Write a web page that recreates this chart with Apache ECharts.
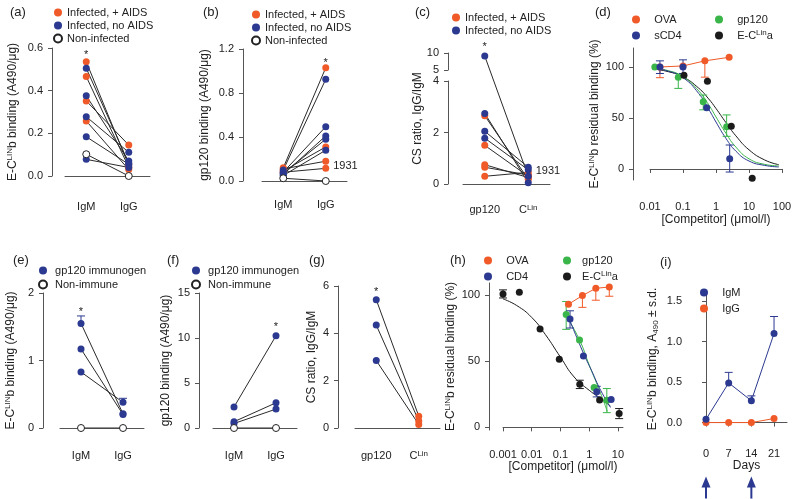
<!DOCTYPE html>
<html><head><meta charset="utf-8">
<script src="https://cdn.jsdelivr.net/npm/echarts@6/dist/echarts.min.js"></script>
<style>html,body{margin:0;padding:0;background:#fff}#c{width:800px;height:499px}</style>
</head><body><div id="c"></div><script>
// ================= DATA =================
// (a) E-C^LIN b binding (A490/ug); IgM[i] is paired with IgG[i]
const pairCats = ['IgM', 'IgG'];
const aAidsIgM   = [0.535, 0.466, 0.352, 0.258];
const aAidsIgG   = [0.050, 0.040, 0.145, 0.030];
const aNoAidsIgM = [0.505, 0.376, 0.278, 0.184, 0.078];
const aNoAidsIgG = [0.060, 0.070, 0.111, 0.055, 0.040];
const aNonIgM    = [0.102];
const aNonIgG    = [0.000];
// (b) gp120 binding (A490/ug)
const bAidsIgM   = [0.12, 0.09, 0.11, 0.08];
const bAidsIgG   = [1.03, 0.31, 0.18, 0.115];
const bNoAidsIgM = [0.10, 0.08, 0.06, 0.07, 0.05];
const bNoAidsIgG = [0.925, 0.494, 0.41, 0.38, 0.28];
const bNonIgM    = [0.025];
const bNonIgG    = [0.000];
// (c) CS ratio IgG/IgM
const ratioCats   = ['gp120', 'CLin'];
const cAidsGp120   = [2.65, 1.5, 0.75, 0.65, 0.3];
const cAidsCLin    = [0.18, 0.30, 0.25, 0.35, 0.45];
const cNoAidsGp120 = [9.1, 2.74, 2.05, 1.78];
const cNoAidsCLin  = [0.30, 0.05, 0.65, 0.55];
// (d) residual binding (%) vs competitor (umol/l)
const dOvaX = [0.02, 0.1, 0.46, 2.5],   dOvaY = [100, 101, 106, 109.5];
const dCd4X = [0.02, 0.1, 0.52, 2.6],   dCd4Y = [100, 100, 60, 10];
const dGpX  = [0.014, 0.072, 0.41, 2.1], dGpY = [100, 90, 66, 41.5];
const dEcX  = [0.107, 0.55, 2.9, 12.5], dEcY  = [92, 86, 42, -9];
// error bars [x, mean, low, high]
const dOvaErr = [[0.02, 100, 89.5, 100], [0.46, 106, 90, 106]];
const dCd4Err = [[0.02, 100, 93.6, 106], [0.1, 100, 93.6, 107], [2.6, 10, -3, 23.5]];
const dGpErr  = [[0.072, 90, 79, 90], [0.41, 66, 58, 72.5], [2.1, 41.5, 32, 53]];
// fitted curves
const dFitX    = [0.012, 0.03, 0.1, 0.3, 0.6, 1, 2, 4, 10, 30, 80];
const dCd4FitY = [98.6, 96.6, 89.5, 74, 58.6, 46, 30, 17.5, 7.8, 3.5, 2];
const dGpFitY  = [98.7, 97, 90.5, 76.5, 63, 51, 35, 21.5, 10, 4.5, 3];
const dEcFitY  = [97.9, 96, 90.2, 79.2, 68.7, 59.3, 45.5, 32.5, 18.8, 8.8, 4.2];
// (e) E-C^LIN b binding, immunized mice
const eImmIgM = [1.55, 1.17, 0.83], eImmIgG = [0.21, 0.20, 0.38];
const eNonIgM = [0], eNonIgG = [0];
const eErr = [['IgM', 1.55, 1.55, 1.66], ['IgG', 0.38, 0.38, 0.44]];
// (f) gp120 binding, immunized mice
const fImmIgM = [2.33, 0.7, 0.5], fImmIgG = [10.25, 2.8, 2.1];
const fNonIgM = [0], fNonIgG = [0];
// (g) CS ratio
const gImmGp120 = [5.42, 4.35, 2.85], gImmCLin = [0.5, 0.3, 0.15];
// (h) residual binding (%)
const hOvaX = [0.19, 0.58, 1.7, 5.0],  hOvaY = [93, 99.5, 105, 106];
const hCd4X = [0.215, 0.63, 1.83, 5.8], hCd4Y = [81.8, 53.8, 26.8, 21];
const hGpX  = [0.158, 0.46, 1.48, 4.1], hGpY  = [85.3, 66, 30, 20.5];
const hEcX  = [0.001, 0.0037, 0.0195, 0.091, 0.47, 2.3, 11];
const hEcY  = [100.7, 102, 74.2, 51.5, 32.6, 20.7, 10.4];
const hOvaErr = [[0.58, 99.5, 90.6, 99.5], [1.7, 105, 96, 105], [5.0, 106, 99, 106]];
const hCd4Err = [[0.215, 81.8, 75, 88], [1.83, 26.8, 23, 31]];
const hGpErr  = [[0.158, 85.3, 74, 95], [4.1, 20.5, 11.1, 29.3]];
const hEcErr  = [[0.001, 100.7, 97.7, 103.8], [0.47, 32.6, 29.3, 35.6], [11, 10.4, 6.6, 14.2]];
const hEcFitX  = [0.001, 0.003, 0.01, 0.03, 0.1, 0.3, 1, 3, 5.5];
const hEcFitY  = [97, 92, 83, 70, 53, 38, 28, 20.5, 16];
const hGpFitX  = [0.15, 0.46, 1, 2, 4.3];
const hGpFitY  = [85, 66, 47, 31, 12];
const hCd4FitX = [0.2, 0.63, 1.2, 2.5, 5.5];
const hCd4FitY = [82, 56, 43, 28, 15];
// (i) time course
const iDays = [0, 7, 14, 21];
const iIgM  = [0.04, 0.49, 0.27, 1.10];
const iIgG  = [0.00, 0.00, 0.00, 0.05];
const iIgMErr = [[7, 0.49, 0.49, 0.62], [14, 0.27, 0.27, 0.33], [21, 1.10, 1.10, 1.31]];
const iBoostDays = [0, 14];

// ================= STYLE / HELPERS =================
const FONT = '"Liberation Sans", Arial, Helvetica, sans-serif';
const COL = {orange:'#f05a28', blue:'#2b3990', green:'#39b54a', black:'#1b1b1b', text:'#222', axis:'#555', link:'#2a2a2a'};
const RICH = {
  sup:{fontSize:8, lineHeight:8, verticalAlign:'top', fontFamily:FONT, color:COL.text},
  sub:{fontSize:8, lineHeight:8, verticalAlign:'bottom', fontFamily:FONT, color:COL.text}
};
function merge(a, b){
  const o = Object.assign({}, a);
  for (const k in b){
    const v = b[k];
    if (v && typeof v === 'object' && !Array.isArray(v) && a[k] && typeof a[k] === 'object' && !Array.isArray(a[k])) o[k] = merge(a[k], v);
    else o[k] = v;
  }
  return o;
}
const zip = (xs, ys) => xs.map((x, i) => [x, ys[i]]);
const grids = [], xAxes = [], yAxes = [], series = [], legends = [], titles = [];
const LINE = {show:true, lineStyle:{color:COL.axis, width:1}};
const TICK = {show:true, length:4, lineStyle:{color:COL.axis, width:1}};
const LBL = {color:COL.text, fontSize:11, fontFamily:FONT};
function yAxisOpt(extra){
  return merge({type:'value', splitLine:{show:false}, axisLine:LINE, axisTick:TICK,
    axisLabel:merge(LBL, {margin:9}), nameLocation:'middle', nameRotate:90,
    nameTextStyle:{color:COL.text, fontSize:12, fontFamily:FONT, lineHeight:14, rich:RICH}}, extra);
}
function xCatOpt(cats, extra){
  return merge({type:'category', data:cats, boundaryGap:true, splitLine:{show:false}, axisLine:LINE,
    axisTick:{show:false}, axisLabel:merge(LBL, {margin:6, interval:0, hideOverlap:false, rich:RICH,
      formatter: v => v === 'CLin' ? 'C{sup|Lin}' : v})}, extra);
}
function xNumOpt(extra){
  return merge({splitLine:{show:false}, axisLine:LINE, axisTick:TICK, axisLabel:merge(LBL, {margin:6}),
    nameLocation:'middle', nameTextStyle:{color:COL.text, fontSize:12, fontFamily:FONT}}, extra);
}
function cart(g, x, y){
  grids.push(g); const gi = grids.length - 1;
  xAxes.push(Object.assign({gridIndex:gi}, x));
  yAxes.push(Object.assign({gridIndex:gi}, y));
  return {x:xAxes.length - 1, y:yAxes.length - 1};
}
function pt(c, v, mark){
  if (!mark) return [c, v];
  return {value:[c, v], label:merge({show:true, color:COL.text, fontSize:11, fontFamily:FONT}, mark)};
}
function styleFor(g, right){
  if (g.open) return {color:'#fff', borderColor:'#222', borderWidth:1, opacity:1};
  return {color: right && g.colorR ? g.colorR : g.color, opacity:1};
}
function pairPanel(ax, cats, groups, tf){
  tf = tf || (v => v);
  groups.forEach(g => g.L.forEach((v, i) => series.push({type:'line', xAxisIndex:ax.x, yAxisIndex:ax.y,
    data:[[cats[0], tf(v)], [cats[1], tf(g.R[i])]], symbol:'none', lineStyle:{color:COL.link, width:1}, silent:true, z:2})));
  groups.forEach(g => {
    const m = g.marks || {};
    const L = g.L.map((v, i) => pt(cats[0], tf(v), m['L' + i]));
    const R = g.R.map((v, i) => pt(cats[1], tf(v), m['R' + i]));
    const base = {type:'scatter', xAxisIndex:ax.x, yAxisIndex:ax.y, symbol:'circle', symbolSize:7, z:3};
    if (g.colorR){
      series.push(merge(base, {name:g.name, data:L, itemStyle:styleFor(g, false)}));
      series.push(merge(base, {data:R, itemStyle:styleFor(g, true)}));
    } else {
      series.push(merge(base, {name:g.name, data:L.concat(R), itemStyle:styleFor(g, false)}));
    }
  });
}
function errSeries(ax, data, color){
  return {type:'custom', xAxisIndex:ax.x, yAxisIndex:ax.y, data, z:3, silent:true, encode:{x:0, y:[1, 2, 3]},
    renderItem:(p, api) => {
      const x = api.value(0), m = api.value(1), lo = api.value(2), hi = api.value(3);
      const a = api.coord([x, lo]), b = api.coord([x, hi]), h = 4;
      const st = {stroke:color, lineWidth:1};
      const kids = [{type:'line', shape:{x1:a[0], y1:a[1], x2:b[0], y2:b[1]}, style:st}];
      if (lo < m) kids.push({type:'line', shape:{x1:a[0]-h, y1:a[1], x2:a[0]+h, y2:a[1]}, style:st});
      if (hi > m) kids.push({type:'line', shape:{x1:b[0]-h, y1:b[1], x2:b[0]+h, y2:b[1]}, style:st});
      return {type:'group', children:kids};
    }};
}
function scat(ax, name, data, color, z){
  return {type:'scatter', name, xAxisIndex:ax.x, yAxisIndex:ax.y, data, symbol:'circle', symbolSize:7, itemStyle:{color, opacity:1}, z:z || 4};
}
function fit(ax, data, color){
  return {type:'line', xAxisIndex:ax.x, yAxisIndex:ax.y, data, symbol:'none', smooth:true, lineStyle:{color, width:1}, silent:true, z:2};
}
function legend(names, left, top, gap, pad){
  legends.push({orient:'vertical', left, top, padding:0, itemGap:gap, itemWidth:8, itemHeight:8, icon:'circle',
    selectedMode:false, data:names, textStyle:{color:COL.text, fontSize:11, fontFamily:FONT, lineHeight:13, rich:RICH},
    formatter: n => pad + (n === 'E-CLina' ? 'E-C{sup|Lin}a' : n)});
}
function label(t, left, top){
  titles.push({text:t, left, top, padding:0, textStyle:{fontSize:13, fontWeight:'normal', fontFamily:FONT, color:COL.text}});
}
const fmt1 = v => v.toFixed(1);
const STAR = {formatter:'*', position:'top'};

// ================= PANEL (a) =================
const axA = cart({left:65, top:48, width:85, height:128},
  xCatOpt(pairCats, {offset:19}),
  yAxisOpt({min:0, max:0.6, interval:0.2, offset:13, axisLabel:{formatter:fmt1},
    name:'E-C{sup|LIN}b binding (A490/μg)', nameGap:32}));
pairPanel(axA, pairCats, [
  {name:'Infected, + AIDS', color:COL.orange, L:aAidsIgM, R:aAidsIgG, marks:{L0:merge(STAR, {distance:-2})}},
  {name:'Infected, no AIDS', color:COL.blue, L:aNoAidsIgM, R:aNoAidsIgG},
  {name:'Non-infected', open:true, L:aNonIgM, R:aNonIgG}
]);
legend(['Infected, + AIDS', 'Infected, no AIDS', 'Non-infected'], 53, 6, 0, '');
label('(a)', 10, 6);

// ================= PANEL (b) =================
const axB = cart({left:262, top:49, width:85, height:132},
  xCatOpt(pairCats, {offset:12}),
  yAxisOpt({min:0, max:1.2, interval:0.4, offset:19, axisLabel:{formatter:fmt1},
    name:'gp120 binding (A490/μg)', nameGap:31}));
pairPanel(axB, pairCats, [
  {name:'Infected, + AIDS', color:COL.orange, L:bAidsIgM, R:bAidsIgG,
    marks:{R0:merge(STAR, {distance:-4}), R3:{formatter:'1931', position:'right', distance:4, offset:[0, -2]}}},
  {name:'Infected, no AIDS', color:COL.blue, L:bNoAidsIgM, R:bNoAidsIgG},
  {name:'Non-infected', open:true, L:bNonIgM, R:bNonIgG}
]);
legend(['Infected, + AIDS', 'Infected, no AIDS', 'Non-infected'], 251, 8, 0, '');
label('(b)', 203, 6);

// ================= PANEL (c) – broken y axis =================
function cScale(v){ return v <= 4 ? v : 4 + 0.427 + (v - 5) * 0.132; }
cart({left:463, top:53, width:87, height:17}, {type:'category', data:ratioCats, show:false},
  yAxisOpt({min:5, max:10, interval:5, offset:15}));
cart({left:463, top:81, width:87, height:103}, {type:'category', data:ratioCats, show:false},
  yAxisOpt({min:0, max:4, interval:2, offset:15}));
const axC = cart({left:463, top:53, width:87, height:131},
  xCatOpt(ratioCats, {offset:14}),
  yAxisOpt({min:0, max:cScale(10), offset:15, axisLine:{show:false}, axisTick:{show:false}, axisLabel:{show:false},
    name:'CS ratio, IgG/IgM', nameGap:23}));
pairPanel(axC, ratioCats, [
  {name:'Infected, + AIDS', color:COL.orange, L:cAidsGp120, R:cAidsCLin,
    marks:{R4:{formatter:'1931', position:'right', distance:4, offset:[0, -1]}}},
  {name:'Infected, no AIDS', color:COL.blue, L:cNoAidsGp120, R:cNoAidsCLin, marks:{L0:merge(STAR, {distance:0})}}
], cScale);
legend(['Infected, + AIDS', 'Infected, no AIDS'], 452, 11, 0, '');
label('(c)', 415, 6);

// ================= PANEL (d) =================
const axD = cart({left:650, top:48, width:132, height:132},
  xNumOpt({type:'log', logBase:10, min:0.01, max:100, offset:15, name:'[Competitor] (μmol/l)', nameGap:19}),
  yAxisOpt({min:-10.8, max:118.6, offset:17, axisTick:{customValues:[0, 50, 100]}, axisLabel:{customValues:[0, 50, 100]},
    name:'E-C{sup|LIN}b residual binding (%)', nameGap:26}));
series.push(fit(axD, zip(dFitX, dEcFitY), COL.black));
series.push(fit(axD, zip(dFitX, dGpFitY), COL.green));
series.push(fit(axD, zip(dFitX, dCd4FitY), COL.blue));
series.push(errSeries(axD, dOvaErr, COL.orange));
series.push(errSeries(axD, dGpErr, COL.green));
series.push(errSeries(axD, dCd4Err, COL.blue));
series.push({type:'line', name:'OVA', xAxisIndex:axD.x, yAxisIndex:axD.y, data:zip(dOvaX, dOvaY), symbol:'circle', symbolSize:7,
  itemStyle:{color:COL.orange}, lineStyle:{color:COL.orange, width:1}, z:4});
series.push(scat(axD, 'gp120', zip(dGpX, dGpY), COL.green));
series.push(scat(axD, 'sCD4', zip(dCd4X, dCd4Y), COL.blue));
series.push(scat(axD, 'E-CLina', zip(dEcX, dEcY), COL.black));
legend(['OVA', 'sCD4'], 632, 13, 3, '   ');
legend(['gp120', 'E-CLina'], 715, 13, 3, '   ');
label('(d)', 595, 6);

// ================= PANEL (e) =================
const axE = cart({left:60, top:293, width:84, height:135},
  xCatOpt(pairCats, {offset:16}),
  yAxisOpt({min:0, max:2, interval:1, offset:17, name:'E-C{sup|LIN}b binding (A490/μg)', nameGap:25}));
series.push(errSeries(axE, eErr, COL.blue));
pairPanel(axE, pairCats, [
  {name:'gp120 immunogen', color:COL.blue, L:eImmIgM, R:eImmIgG, marks:{L0:merge(STAR, {distance:2})}},
  {name:'Non-immune', open:true, L:eNonIgM, R:eNonIgG}
]);
legend(['gp120 immunogen', 'Non-immune'], 38, 264, 1, ' ');
label('(e)', 13, 254);

// ================= PANEL (f) =================
const axF = cart({left:213, top:293, width:84, height:135},
  xCatOpt(pairCats, {offset:16}),
  yAxisOpt({min:0, max:15, interval:5, offset:14, name:'gp120 binding (A490/μg)', nameGap:26}));
pairPanel(axF, pairCats, [
  {name:'gp120 immunogen', color:COL.blue, L:fImmIgM, R:fImmIgG, marks:{R0:merge(STAR, {distance:0})}},
  {name:'Non-immune', open:true, L:fNonIgM, R:fNonIgG}
]);
legend(['gp120 immunogen', 'Non-immune'], 191, 264, 1, ' ');
label('(f)', 167, 254);

// ================= PANEL (g) =================
const axG = cart({left:355, top:286, width:85, height:142},
  xCatOpt(ratioCats, {offset:16}),
  yAxisOpt({min:0, max:6, interval:2, offset:17, name:'CS ratio, IgG/IgM', nameGap:17}));
pairPanel(axG, ratioCats, [
  {name:'gp120 immunogen', color:COL.blue, colorR:COL.orange, L:gImmGp120, R:gImmCLin, marks:{L0:merge(STAR, {distance:-1})}}
]);
label('(g)', 309, 254);

// ================= PANEL (h) =================
const axH = cart({left:503, top:283, width:120, height:147},
  xNumOpt({type:'log', logBase:10, min:0.001, max:15, offset:13, axisTick:{customValues:[0.001, 0.01, 0.1, 1, 10]},
    axisLabel:{customValues:[0.001, 0.01, 0.1, 1, 10]}, name:'[Competitor] (μmol/l)', nameGap:17}),
  yAxisOpt({min:-2, max:109, offset:14, axisTick:{customValues:[0, 50, 100]}, axisLabel:{customValues:[0, 50, 100]},
    name:'E-C{sup|LIN}b residual binding (%)', nameGap:31}));
series.push(fit(axH, zip(hEcFitX, hEcFitY), COL.black));
series.push(fit(axH, zip(hGpFitX, hGpFitY), COL.green));
series.push(fit(axH, zip(hCd4FitX, hCd4FitY), COL.blue));
series.push(errSeries(axH, hOvaErr, COL.orange));
series.push(errSeries(axH, hGpErr, COL.green));
series.push(errSeries(axH, hCd4Err, COL.blue));
series.push(errSeries(axH, hEcErr, COL.black));
series.push({type:'line', name:'OVA', xAxisIndex:axH.x, yAxisIndex:axH.y, data:zip(hOvaX, hOvaY), symbol:'circle', symbolSize:7,
  itemStyle:{color:COL.orange}, lineStyle:{color:COL.orange, width:1}, z:4});
series.push(scat(axH, 'gp120', zip(hGpX, hGpY), COL.green));
series.push(scat(axH, 'CD4', zip(hCd4X, hCd4Y), COL.blue));
series.push(scat(axH, 'E-CLina', zip(hEcX, hEcY), COL.black));
legend(['OVA', 'CD4'], 484, 254, 3, '   ');
legend(['gp120', 'E-CLina'], 563, 254, 3, '  ');
label('(h)', 450, 254);

// ================= PANEL (i) =================
const axI = cart({left:706, top:293, width:81, height:132},
  xNumOpt({type:'value', min:0, max:25, offset:17, axisTick:{customValues:iDays}, axisLabel:{customValues:iDays},
    name:'Days', nameGap:17}),
  yAxisOpt({min:-0.03, max:1.6, offset:15, axisTick:{customValues:[0, 0.5, 1, 1.5]},
    axisLabel:{customValues:[0, 0.5, 1, 1.5], formatter:fmt1},
    name:'E-C{sup|LIN}b binding, A{sub|490} ± s.d.', nameGap:31}));
series.push(errSeries(axI, iIgMErr, COL.blue));
series.push({type:'line', name:'IgG', xAxisIndex:axI.x, yAxisIndex:axI.y, data:zip(iDays, iIgG), symbol:'circle', symbolSize:7,
  itemStyle:{color:COL.orange}, lineStyle:{color:COL.orange, width:1}, z:4});
series.push({type:'line', name:'IgM', xAxisIndex:axI.x, yAxisIndex:axI.y, data:zip(iDays, iIgM), symbol:'circle', symbolSize:7,
  itemStyle:{color:COL.blue}, lineStyle:{color:COL.blue, width:1}, z:4});
series.push({type:'custom', xAxisIndex:axI.x, yAxisIndex:axI.y, clip:false, silent:true, z:4,
  data:iBoostDays.map(d => [d, 0]), encode:{x:0, y:1},
  renderItem:(p, api) => {
    const c = api.coord([api.value(0), api.value(1)]);
    const top = c[1] + 54;
    return {type:'group', children:[
      {type:'polygon', shape:{points:[[c[0], top], [c[0] - 4.5, top + 11], [c[0] + 4.5, top + 11]]}, style:{fill:COL.blue}},
      {type:'rect', shape:{x:c[0] - 1, y:top + 10, width:2, height:12}, style:{fill:COL.blue}}
    ]};
  }});
legend(['IgM', 'IgG'], 700, 286, 3, '   ');
label('(i)', 660, 256);

// ================= RENDER =================
const chart = echarts.init(document.getElementById('c'), null, {renderer:'canvas'});
chart.setOption({
  animation:false, backgroundColor:'#fff', textStyle:{fontFamily:FONT},
  title:titles, legend:legends, grid:grids, xAxis:xAxes, yAxis:yAxes, series, tooltip:{show:false}
});
</script></body></html>
